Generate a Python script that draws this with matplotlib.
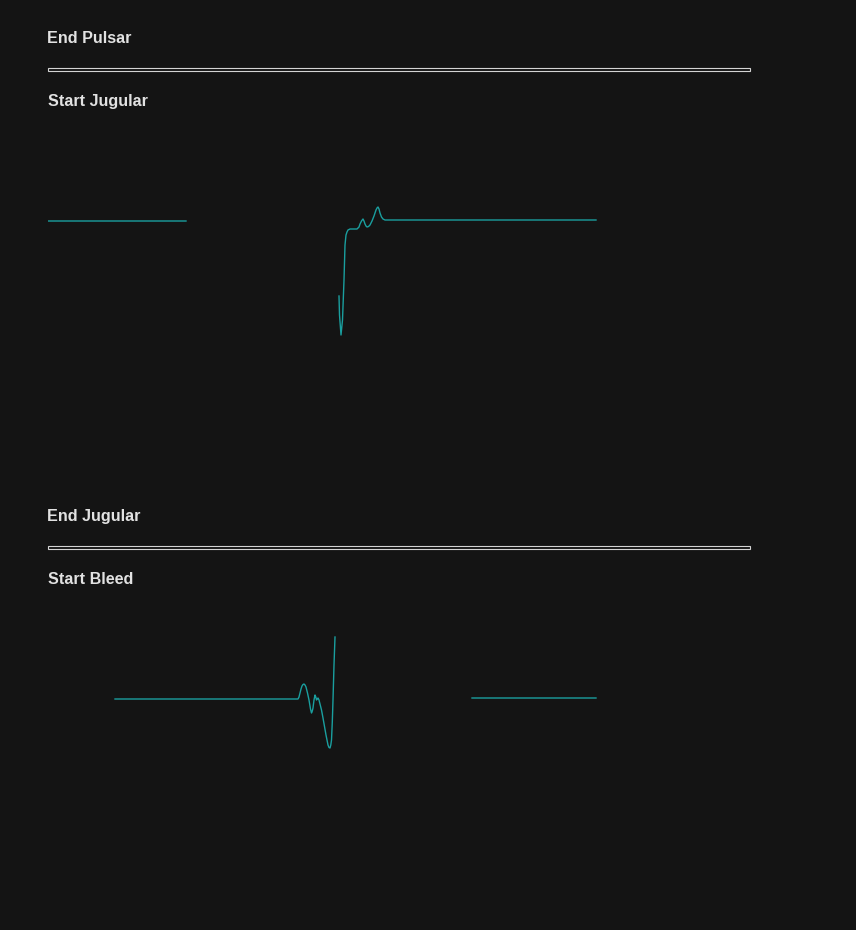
import numpy as np
import matplotlib
matplotlib.use("Agg")
import matplotlib.pyplot as plt
from matplotlib.patches import Rectangle

# canvas
W, H = 856, 930
bg = "#141414"
trace_col = "#1a9f9f"
text_col = "#e2e2e2"

# section titles
titles_end = ["End Pulsar", "End Jugular"]
titles_start = ["Start Jugular", "Start Bleed"]

# jugular trace (time s, amplitude mV), nan = gap
jug_t = [0.0, 1.38, np.nan,
         2.91, 2.915, 2.93, 2.945, 2.96, 2.97, 2.98, 2.99, 3.00, 3.02, 3.03,
         3.09, 3.11, 3.12, 3.135, 3.15, 3.16, 3.17, 3.18, 3.19, 3.205, 3.22,
         3.24, 3.26, 3.28, 3.29, 3.30, 3.31, 3.32, 3.335, 3.35, 3.37, 5.48]
jug_v = [-0.01, -0.01, np.nan,
         -0.76, -0.95, -1.15, -1.00, -0.60, -0.25, -0.15, -0.12, -0.10, -0.09, -0.09,
         -0.09, -0.07, -0.04, -0.01, 0.01, -0.01, -0.04, -0.06, -0.07, -0.065, -0.05,
         -0.01, 0.04, 0.10, 0.12, 0.13, 0.11, 0.07, 0.03, 0.01, 0.00, 0.00]

# bleed trace
bleed_t = [0.67, 2.50, 2.51, 2.52, 2.53, 2.54, 2.55, 2.56, 2.57, 2.58, 2.595,
           2.61, 2.625, 2.635, 2.643, 2.65, 2.66, 2.67, 2.678, 2.685, 2.692,
           2.70, 2.71, 2.72, 2.735, 2.75, 2.78, 2.80, 2.81, 2.82, 2.828, 2.835,
           2.843, 2.85, 2.86, 2.87, np.nan,
           4.24, 5.48]
bleed_v = [0.0, 0.0, 0.02, 0.06, 0.10, 0.13, 0.145, 0.15, 0.14, 0.12, 0.06,
           -0.01, -0.10, -0.14, -0.12, -0.09, -0.01, 0.04, 0.02, -0.01, 0.0,
           0.01, -0.01, -0.05, -0.11, -0.19, -0.36, -0.46, -0.485, -0.49, -0.46, -0.41,
           -0.23, -0.01, 0.34, 0.62, np.nan,
           0.01, 0.01]


def fx(px):
    return px / W


def fy(py):
    return 1 - py / H


fig = plt.figure(figsize=(W / 100, H / 100), dpi=100, facecolor=bg)

# panel layout in pixels: end title y, rule y, start title y, axes top/bottom, ylim
panels = [
    dict(end_y=38.5, rule_y=68, start_y=101.5, top=120, bot=470, ylim=(-2.5, 1.0),
         t=jug_t, v=jug_v),
    dict(end_y=516.5, rule_y=546, start_y=579.5, top=599, bot=919, ylim=(-2.2, 1.0),
         t=bleed_t, v=bleed_v),
]

for i, p in enumerate(panels):
    fig.text(fx(47), fy(p["end_y"]), titles_end[i], color=text_col,
             fontsize=11.6, fontweight="bold", family="Liberation Sans", va="center")
    fig.text(fx(48), fy(p["start_y"]), titles_start[i], color=text_col,
             fontsize=11.6, fontweight="bold", family="Liberation Sans", va="center")
    # double rule
    fig.add_artist(Rectangle((fx(48), fy(p["rule_y"] + 3)), fx(701.5), 3 / H,
                             transform=fig.transFigure, facecolor="none",
                             edgecolor="#d4d4d4", lw=0.8))

    ax = fig.add_axes([fx(48), fy(p["bot"]), fx(702), (p["bot"] - p["top"]) / H])
    ax.set_facecolor("none")
    ax.plot(p["t"], p["v"], color=trace_col, lw=1.0)
    ax.set_xlim(0, 7.02)
    ax.set_ylim(*p["ylim"])
    ax.axis("off")

fig.savefig("out.png", dpi=100, facecolor=bg)
